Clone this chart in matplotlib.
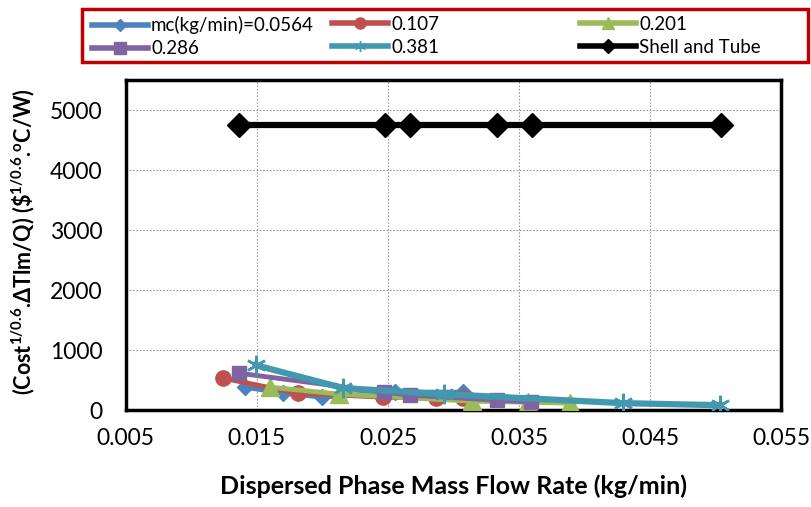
import numpy as np
import matplotlib
matplotlib.use('Agg')
import matplotlib.pyplot as plt
from matplotlib.lines import Line2D
from matplotlib.patches import Rectangle
from matplotlib.ticker import FormatStrFormatter

plt.rcParams['font.family'] = ['Lato', 'DejaVu Sans']
plt.rcParams['mathtext.fontset'] = 'custom'
plt.rcParams['mathtext.rm'] = 'Lato'
plt.rcParams['mathtext.bf'] = 'Lato:bold'

# Data
x_0564 = [0.0141, 0.0170, 0.0200, 0.0255, 0.0307]
y_0564 = [383, 283, 217, 300, 300]

x_107 = [0.0124, 0.0181, 0.0246, 0.0287, 0.0307]
y_107 = [533, 283, 217, 200, 200]

x_201 = [0.0160, 0.0213, 0.0314, 0.0357, 0.0389]
y_201 = [383, 267, 150, 133, 117]

x_286 = [0.0136, 0.0247, 0.0267, 0.0333, 0.0359]
y_286 = [617, 300, 250, 167, 133]

x_381 = [0.0149, 0.0216, 0.0293, 0.0429, 0.0503]
y_381 = [750, 367, 267, 117, 83]

x_shell = [0.0136, 0.0248, 0.0267, 0.0333, 0.0360, 0.0504]
y_shell = [4750, 4750, 4750, 4750, 4750, 4750]

labels = ['mc(kg/min)=0.0564', '0.107', '0.201', '0.286', '0.381', 'Shell and Tube']

blue = '#4F81BD'
red = '#C0504D'
green = '#9BBB59'
purple = '#8064A2'
teal = '#4198AF'

fig = plt.figure(figsize=(8.12, 5.07), dpi=100)
ax = fig.add_axes([0.155, 0.191, 0.807, 0.651])

ax.plot(x_0564, y_0564, color=blue, lw=3.5, marker='D', ms=8, zorder=3)
ax.plot(x_107, y_107, color=red, lw=3.5, marker='o', ms=11, zorder=3)
ax.plot(x_201, y_201, color=green, lw=3.5, marker='^', ms=13, zorder=3)
ax.plot(x_286, y_286, color=purple, lw=3.5, marker='s', ms=10, zorder=3)
ax.plot(x_381, y_381, color=teal, lw=4.5, marker=(6, 2, 0), ms=14, mew=1.8, zorder=3)
ax.plot(x_shell, y_shell, color='black', lw=4.5, marker='D', ms=12, zorder=3)

ax.set_xlim(0.005, 0.055)
ax.set_ylim(0, 5500)
ax.set_xticks(np.arange(0.005, 0.0551, 0.01))
ax.set_yticks(np.arange(0, 5001, 1000))
ax.xaxis.set_major_formatter(FormatStrFormatter('%.3f'))
ax.tick_params(axis='both', length=0, labelsize=16.5)
ax.tick_params(axis='x', pad=13)
ax.tick_params(axis='y', pad=17)
ax.grid(True, color='#999999', linestyle=(0, (1.5, 1.5)), lw=0.8)
for s in ax.spines.values():
    s.set_linewidth(2.5)
    s.set_color('black')

ax.set_xlabel('Dispersed Phase Mass Flow Rate (kg/min)', fontsize=18, fontweight='bold', labelpad=18)
ax.set_ylabel(r'(Cost$^{\mathbf{1/0.6}}$.ΔTlm/Q) (\$$^{\mathbf{1/0.6}}$.$^{\mathbf{o}}$C/W)',
              fontsize=15.5, fontweight='bold')
ax.yaxis.set_label_coords(-0.135, 0.51)

# legend, three columns placed like the original
handles = [
    Line2D([], [], color=blue, lw=4, marker='D', ms=6),
    Line2D([], [], color=red, lw=4, marker='o', ms=8),
    Line2D([], [], color=green, lw=4, marker='^', ms=8),
    Line2D([], [], color=purple, lw=4, marker='s', ms=8),
    Line2D([], [], color=teal, lw=4, marker=(6, 2, 0), ms=8, mew=1),
    Line2D([], [], color='black', lw=4, marker='D', ms=7),
]
col_x = [92 / 812, 332 / 812, 580 / 812]
for c in range(3):
    leg = fig.legend([handles[c], handles[c + 3]], [labels[c], labels[c + 3]],
                     loc='upper left', bbox_to_anchor=(col_x[c], 1 - 16 / 507),
                     frameon=False, fontsize=13.5, handlelength=3.0,
                     handletextpad=0.15, borderpad=0, borderaxespad=0,
                     labelspacing=0.32)
fig.patches.append(Rectangle((82 / 812, 1 - 62 / 507), 726 / 812, 53 / 507,
                             transform=fig.transFigure, fill=False,
                             edgecolor='#C00000', lw=2.5))

fig.savefig('out.png', dpi=100)
